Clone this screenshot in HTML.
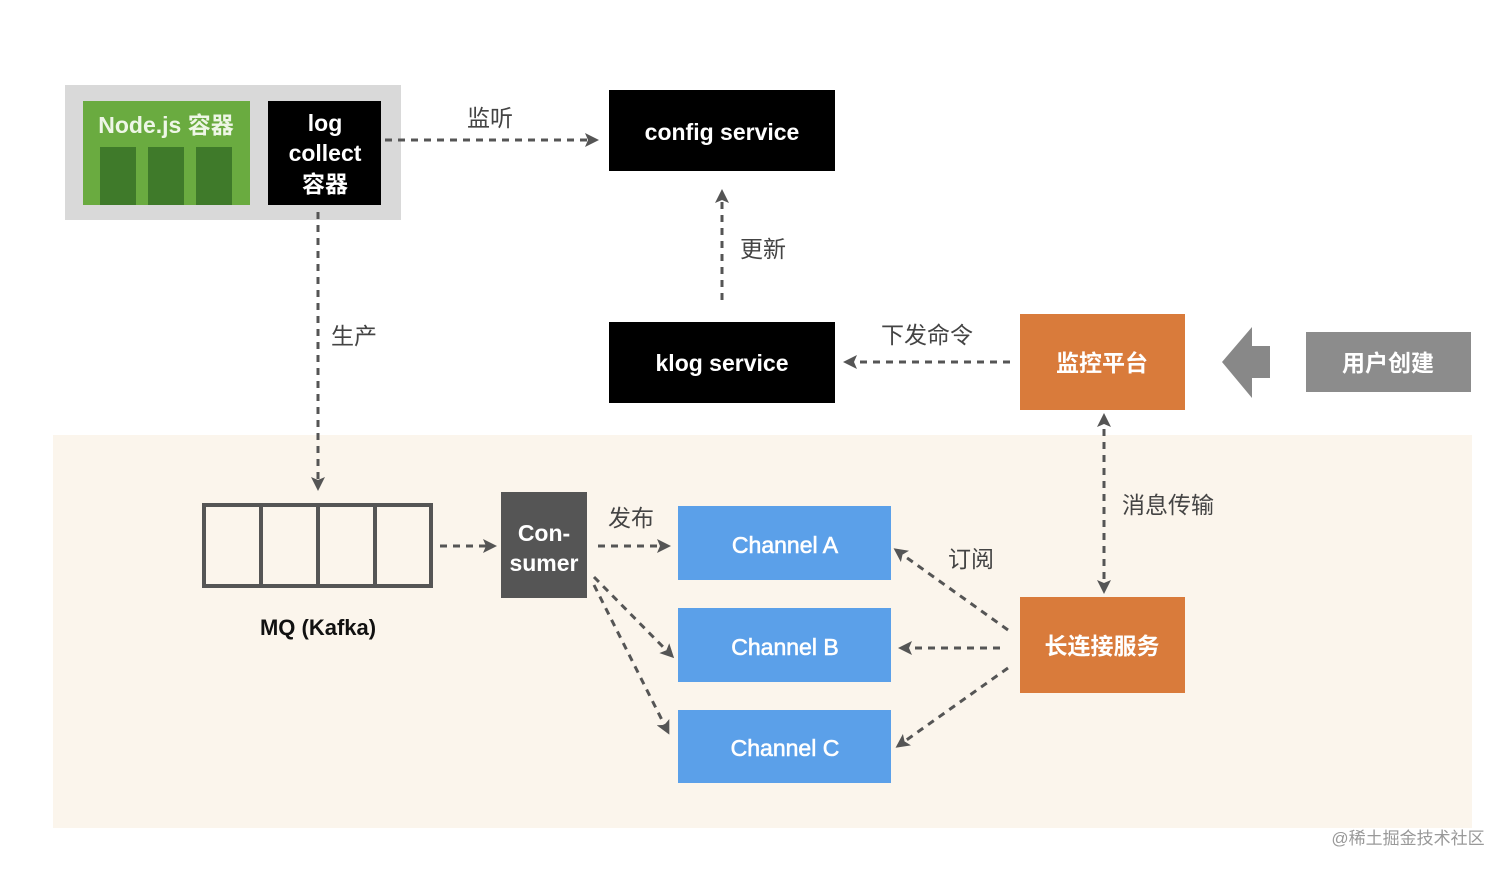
<!DOCTYPE html>
<html><head><meta charset="utf-8"><style>
body{margin:0;background:#fff;}
svg text{font-family:"Liberation Sans","Noto Sans CJK SC",sans-serif;}
</style></head><body>
<svg width="1512" height="871" viewBox="0 0 1512 871" xmlns="http://www.w3.org/2000/svg">
<defs>
<marker id="a" markerWidth="14" markerHeight="14" refX="11" refY="7" orient="auto-start-reverse" markerUnits="userSpaceOnUse">
<path d="M0,0 L14,7 L0,14 L3,7 z" fill="#555"/></marker>
</defs>
<rect x="53" y="435" width="1419" height="393" fill="#fbf5ec"/>
<rect x="65" y="85" width="336" height="135" fill="#d9d9d9"/>
<rect x="83" y="101" width="167" height="104" fill="#6aab40"/>
<rect x="100" y="147" width="36" height="58" fill="#3f7a2a"/>
<rect x="148" y="147" width="36" height="58" fill="#3f7a2a"/>
<rect x="196" y="147" width="36" height="58" fill="#3f7a2a"/>
<text x="166" y="133" fill="#eef6e6" font-size="23" font-weight="bold" text-anchor="middle">Node.js 容器</text>
<rect x="268" y="101" width="113" height="104" fill="#000"/>
<g fill="#fff" font-size="23" font-weight="bold" text-anchor="middle">
<text x="325" y="131">log</text><text x="325" y="161">collect</text><text x="325" y="192">容器</text>
</g>
<rect x="609" y="90" width="226" height="81" fill="#000"/>
<text x="722" y="140" fill="#fff" font-size="23" font-weight="bold" text-anchor="middle">config service</text>
<rect x="609" y="322" width="226" height="81" fill="#000"/>
<text x="722" y="371" fill="#fff" font-size="23" font-weight="bold" text-anchor="middle">klog service</text>
<rect x="1020" y="314" width="165" height="96" fill="#d97b3b"/>
<text x="1102" y="371" fill="#fff" font-size="23" font-weight="bold" text-anchor="middle">监控平台</text>
<polygon points="1222,362 1252,327 1252,346 1270,346 1270,378 1252,378 1252,398" fill="#888"/>
<rect x="1306" y="332" width="165" height="60" fill="#8c8c8c"/>
<text x="1388" y="371" fill="#fff" font-size="23" font-weight="bold" text-anchor="middle">用户创建</text>
<g fill="none" stroke="#555" stroke-width="4">
<rect x="204" y="505" width="227" height="81"/>
<line x1="261" y1="505" x2="261" y2="586"/><line x1="318" y1="505" x2="318" y2="586"/><line x1="375" y1="505" x2="375" y2="586"/>
</g>
<text x="318" y="635" fill="#111" font-size="22" font-weight="bold" text-anchor="middle">MQ (Kafka)</text>
<rect x="501" y="492" width="86" height="106" fill="#555"/>
<text x="544" y="541" fill="#fff" font-size="23" font-weight="bold" text-anchor="middle">Con-</text>
<text x="544" y="571" fill="#fff" font-size="23" font-weight="bold" text-anchor="middle">sumer</text>
<g fill="#5ba0e9"><rect x="678" y="506" width="213" height="74"/><rect x="678" y="608" width="213" height="74"/><rect x="678" y="710" width="213" height="73"/></g>
<g fill="#fff" font-size="23" text-anchor="middle" stroke="#fff" stroke-width="0.6">
<text x="785" y="553">Channel A</text><text x="785" y="655">Channel B</text><text x="785" y="756">Channel C</text></g>
<rect x="1020" y="597" width="165" height="96" fill="#d97b3b"/>
<text x="1102" y="654" fill="#fff" font-size="23" font-weight="bold" text-anchor="middle">长连接服务</text>
<g stroke="#555" stroke-width="3" stroke-dasharray="7,6" fill="none" marker-end="url(#a)">
<line x1="385" y1="140" x2="596" y2="140"/>
<line x1="722" y1="300" x2="722" y2="192"/>
<line x1="1010" y1="362" x2="846" y2="362"/>
<line x1="318" y1="212" x2="318" y2="488"/>
<line x1="440" y1="546" x2="494" y2="546"/>
<line x1="598" y1="546" x2="668" y2="546"/>
<line x1="594" y1="577" x2="672" y2="656"/>
<line x1="594" y1="585" x2="668" y2="732"/>
<line x1="1008" y1="630" x2="896" y2="550"/>
<line x1="1000" y1="648" x2="901" y2="648"/>
<line x1="1008" y1="668" x2="898" y2="746"/>
<line x1="1104" y1="416" x2="1104" y2="591" marker-start="url(#a)"/>
</g>
<g fill="#444" font-size="23" text-anchor="middle">
<text x="490" y="126">监听</text><text x="763" y="257">更新</text><text x="927" y="343">下发命令</text>
<text x="354" y="344">生产</text><text x="631" y="526">发布</text><text x="971" y="567">订阅</text>
<text x="1168" y="513">消息传输</text></g>
<text x="1408" y="844" fill="#999" font-size="17" text-anchor="middle">@稀土掘金技术社区</text>
</svg>
</body></html>
